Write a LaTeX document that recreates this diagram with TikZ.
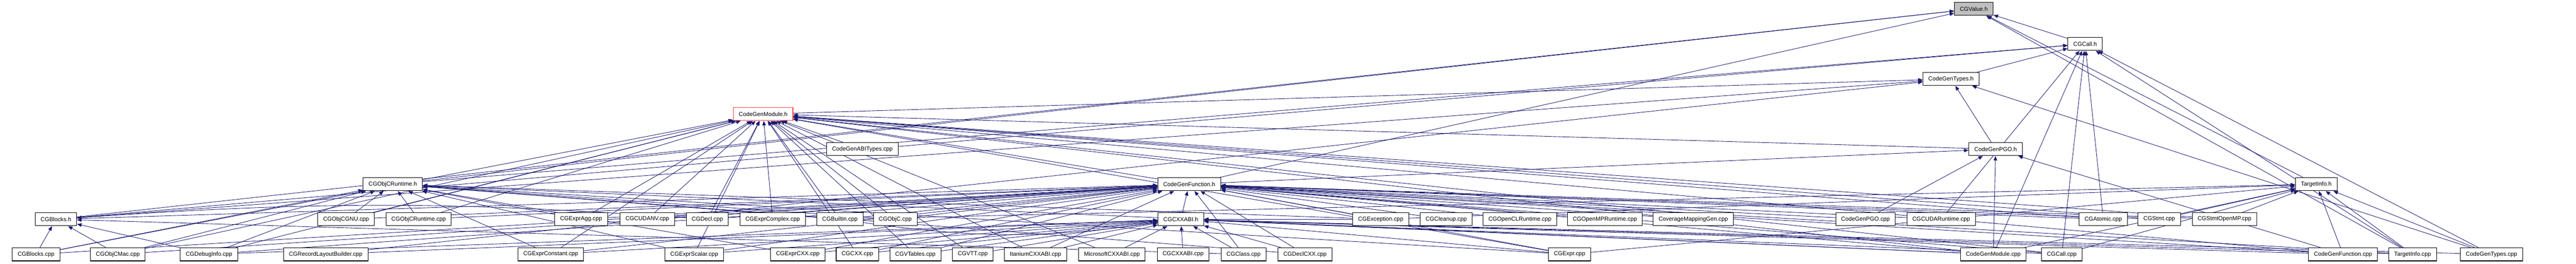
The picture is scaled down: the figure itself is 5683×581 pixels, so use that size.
\documentclass[tikz,border=0pt]{standalone}
\usepackage{fontspec}
\setmainfont{Liberation Sans}
\usetikzlibrary{arrows.meta}
\definecolor{edgeblue}{HTML}{191970}
\definecolor{boxgray}{HTML}{BFBFBF}
\definecolor{boxred}{HTML}{FF4040}
\pgfdeclarelayer{bg}
\pgfsetlayers{bg,main}
\begin{document}
\begin{tikzpicture}[x=0.5pt, y=-0.5pt, >={Triangle[length=5pt,width=4pt]},
  file/.style={draw=black, fill=white, line width=0.6pt, inner xsep=6pt, inner ysep=0pt,
    minimum height=14.5pt, font=\fontsize{6.4}{7.7}\selectfont}]
\useasboundingbox (0,0) rectangle (5683,581);

% headers
\node (val) [file, fill=boxgray] at (4354.5,19.5) {CGValue.h};
\node (call) [file] at (4600,96.8) {CGCall.h};
\node (types) [file] at (4304,174.1) {CodeGenTypes.h};
\node (module) [file, draw=boxred] at (1683.5,251.4) {CodeGenModule.h};
\node (abitypes) [file] at (1902.5,328.7) {CodeGenABITypes.cpp};
\node (pgoh) [file] at (4402.5,328.7) {CodeGenPGO.h};
\node (objcrth) [file] at (866.5,406) {CGObjCRuntime.h};
\node (funch) [file] at (2623.5,406) {CodeGenFunction.h};
\node (tih) [file] at (5110,406) {TargetInfo.h};

% second lowest row
\node (blocksh) [file] at (123.5,483.3) {CGBlocks.h};
\node (objcgnu) [file] at (763.5,483.3) {CGObjCGNU.cpp};
\node (objcrt) [file] at (923.5,483.3) {CGObjCRuntime.cpp};
\node (exagg) [file] at (1282,483.3) {CGExprAgg.cpp};
\node (cudanv) [file] at (1428,483.3) {CGCUDANV.cpp};
\node (decl) [file] at (1560.5,483.3) {CGDecl.cpp};
\node (excomplex) [file] at (1704.5,483.3) {CGExprComplex.cpp};
\node (builtin) [file] at (1853,483.3) {CGBuiltin.cpp};
\node (objc) [file] at (1975,483.3) {CGObjC.cpp};
\node (cxxabih) [file] at (2605,483.3) {CGCXXABI.h};
\node (exception) [file] at (3046,483.3) {CGException.cpp};
\node (cleanup) [file] at (3190.5,483.3) {CGCleanup.cpp};
\node (openclrt) [file] at (3353,483.3) {CGOpenCLRuntime.cpp};
\node (openmprt) [file] at (3540.5,483.3) {CGOpenMPRuntime.cpp};
\node (covmap) [file] at (3735.5,483.3) {CoverageMappingGen.cpp};
\node (pgo) [file] at (4115.5,483.3) {CodeGenPGO.cpp};
\node (cudart) [file] at (4282.5,483.3) {CGCUDARuntime.cpp};
\node (atomic) [file] at (4640,483.3) {CGAtomic.cpp};
\node (stmt) [file] at (4763.5,483.3) {CGStmt.cpp};
\node (stmtomp) [file] at (4907.5,483.3) {CGStmtOpenMP.cpp};

% lowest row
\node (blocks) [file] at (79.5,560.6) {CGBlocks.cpp};
\node (objcmac) [file] at (260,560.6) {CGObjCMac.cpp};
\node (debuginfo) [file] at (461,560.6) {CGDebugInfo.cpp};
\node (recordlayout) [file] at (718.5,560.6) {CGRecordLayoutBuilder.cpp};
\node (exconst) [file] at (1215,560.6) {CGExprConstant.cpp};
\node (exscalar) [file] at (1531.5,560.6) {CGExprScalar.cpp};
\node (excxx) [file] at (1760,560.6) {CGExprCXX.cpp};
\node (cxx) [file] at (1891.5,560.6) {CGCXX.cpp};
\node (vtables) [file] at (2019.5,560.6) {CGVTables.cpp};
\node (vtt) [file] at (2146,560.6) {CGVTT.cpp};
\node (itanium) [file] at (2284.5,560.6) {ItaniumCXXABI.cpp};
\node (microsoft) [file] at (2453,560.6) {MicrosoftCXXABI.cpp};
\node (cxxabi) [file] at (2610,560.6) {CGCXXABI.cpp};
\node (class) [file] at (2743.5,560.6) {CGClass.cpp};
\node (declcxx) [file] at (2879,560.6) {CGDeclCXX.cpp};
\node (expr) [file] at (3462.5,560.6) {CGExpr.cpp};
\node (modulecpp) [file] at (4397.5,560.6) {CodeGenModule.cpp};
\node (callcpp) [file] at (4548.5,560.6) {CGCall.cpp};
\node (funccpp) [file] at (5169,560.6) {CodeGenFunction.cpp};
\node (ticpp) [file] at (5322.5,560.6) {TargetInfo.cpp};
\node (typescpp) [file] at (5496.5,560.6) {CodeGenTypes.cpp};

\begin{pgfonlayer}{bg}
\begin{scope}[every edge/.style={draw=edgeblue, line width=0.5pt}]
 % into CGValue.h
 \path [->] (call) edge (val) (objcrth) edge (val) (blocksh) edge (val)
   (funch) edge (val) (tih) edge (val) (ticpp) edge (val);
 % into CGCall.h
 \path [->] (types) edge (call) (objcrth) edge (call) (blocksh) edge (call)
   (atomic) edge (call) (cudart) edge (call) (callcpp) edge (call)
   (modulecpp) edge (call) (typescpp) edge (call) (ticpp) edge (call);
 % into CodeGenTypes.h
 \path [->] (module) edge (types) (blocksh) edge (types) (recordlayout) edge (types)
   (pgoh) edge (types) (typescpp) edge (types);
 % into CodeGenModule.h
 \path [->] (funch) edge (module) (pgoh) edge (module) (abitypes) edge (module)
   (blocks) edge (module) (objcmac) edge (module) (debuginfo) edge (module)
   (exconst) edge (module) (exscalar) edge (module) (cxx) edge (module)
   (vtables) edge (module) (vtt) edge (module) (itanium) edge (module)
   (microsoft) edge (module) (expr) edge (module) (modulecpp) edge (module)
   (callcpp) edge (module) (funccpp) edge (module) (objcgnu) edge (module)
   (objcrt) edge (module) (exagg) edge (module) (cudanv) edge (module)
   (decl) edge (module) (excomplex) edge (module) (builtin) edge (module)
   (objc) edge (module) (atomic) edge (module) (stmt) edge (module)
   (stmtomp) edge (module);
 % into CGObjCRuntime.h
 \path [->] (blocks) edge (objcrth) (objcmac) edge (objcrth) (debuginfo) edge (objcrth)
   (objcgnu) edge (objcrth) (objcrt) edge (objcrth) (exagg) edge (objcrth)
   (exconst) edge (objcrth) (exscalar) edge (objcrth) (excxx) edge (objcrth)
   (builtin) edge (objcrth) (objc) edge (objcrth) (exception) edge (objcrth)
   (declcxx) edge (objcrth) (expr) edge (objcrth) (modulecpp) edge (objcrth);
 % into CodeGenFunction.h
 \path [->] (blocksh) edge (funch) (cxxabih) edge (funch) (blocks) edge (funch)
   (objcmac) edge (funch) (debuginfo) edge (funch) (exconst) edge (funch)
   (exscalar) edge (funch) (excxx) edge (funch) (cxx) edge (funch)
   (vtables) edge (funch) (itanium) edge (funch) (class) edge (funch)
   (declcxx) edge (funch) (expr) edge (funch) (modulecpp) edge (funch)
   (callcpp) edge (funch) (funccpp) edge (funch) (ticpp) edge (funch)
   (objcgnu) edge (funch) (objcrt) edge (funch) (exagg) edge (funch)
   (cudanv) edge (funch) (decl) edge (funch) (excomplex) edge (funch)
   (builtin) edge (funch) (objc) edge (funch) (exception) edge (funch)
   (cleanup) edge (funch) (openclrt) edge (funch) (openmprt) edge (funch)
   (covmap) edge (funch) (pgo) edge (funch) (cudart) edge (funch)
   (atomic) edge (funch) (stmt) edge (funch) (stmtomp) edge (funch);
 % into CGCXXABI.h
 \path [->] (debuginfo) edge (cxxabih) (recordlayout) edge (cxxabih) (exconst) edge (cxxabih)
   (exscalar) edge (cxxabih) (excxx) edge (cxxabih) (cxx) edge (cxxabih)
   (vtables) edge (cxxabih) (vtt) edge (cxxabih) (itanium) edge (cxxabih)
   (microsoft) edge (cxxabih) (cxxabi) edge (cxxabih) (class) edge (cxxabih)
   (declcxx) edge (cxxabih) (expr) edge (cxxabih) (modulecpp) edge (cxxabih)
   (callcpp) edge (cxxabih) (funccpp) edge (cxxabih) (ticpp) edge (cxxabih)
   (typescpp) edge (cxxabih) (builtin) edge[bend right=8] (cxxabih)
   (exception) edge (cxxabih);
 % into CodeGenPGO.h
 \path [->] (funch) edge (pgoh) (pgo) edge (pgoh) (modulecpp) edge (pgoh) (funccpp) edge (pgoh);
 % into TargetInfo.h
 \path [->] (modulecpp) edge (tih) (callcpp) edge (tih) (funccpp) edge (tih)
   (ticpp) edge (tih) (typescpp) edge (tih) (stmt) edge (tih) (stmtomp) edge (tih)
   (builtin) edge (tih) (exception) edge (tih) (expr) edge (tih);
 % into CGBlocks.h
 \path [->] (blocks) edge (blocksh) (objcmac) edge (blocksh) (debuginfo) edge (blocksh)
   (decl) edge[bend right=4] (blocksh) (class) edge (blocksh);
\end{scope}
\end{pgfonlayer}
\end{tikzpicture}
\end{document}
